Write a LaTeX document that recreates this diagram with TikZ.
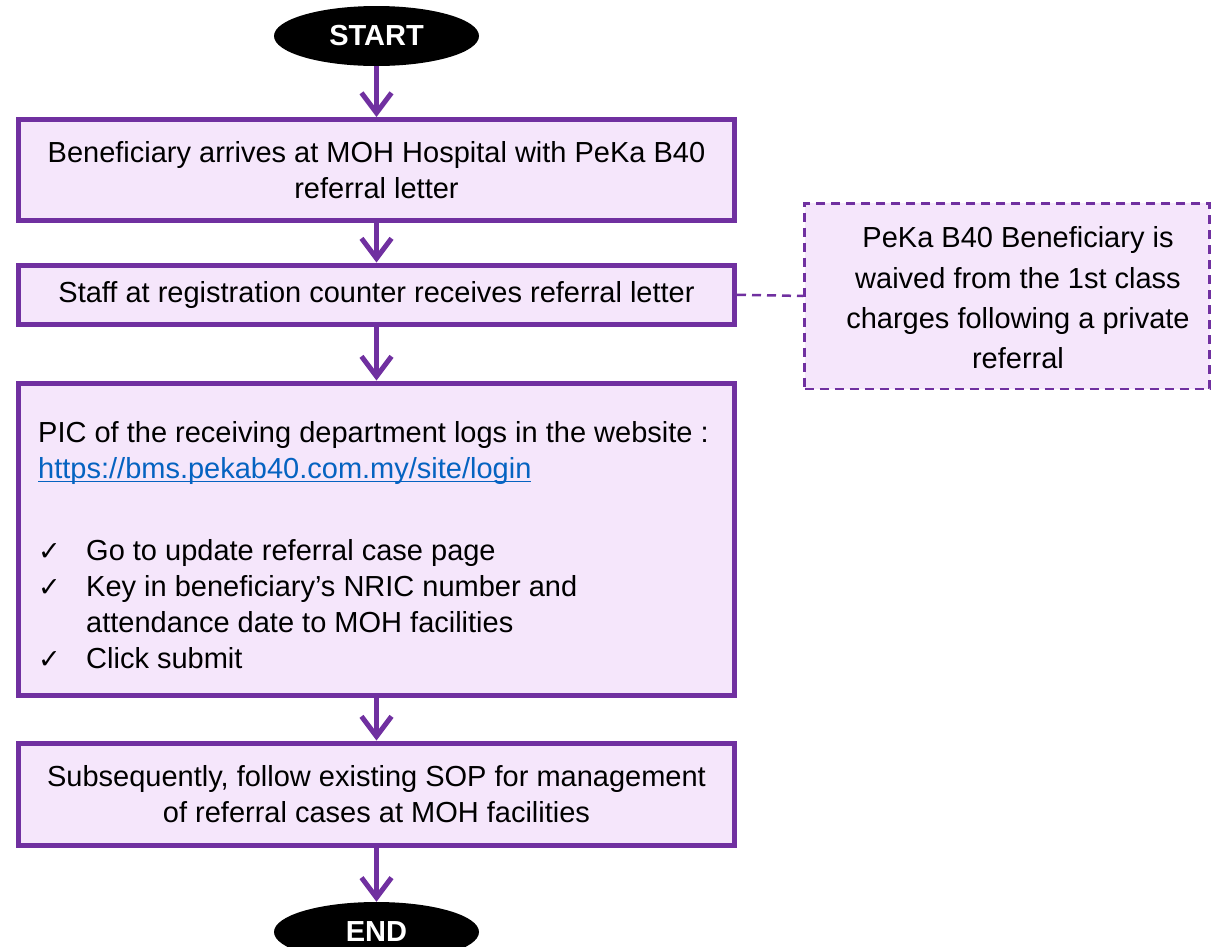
\documentclass[tikz,border=0pt]{standalone}
\usepackage{fontspec}
\setmainfont{Liberation Sans}
\newfontfamily\symfont{DejaVu Sans}
\usetikzlibrary{shapes.geometric,arrows.meta}
\definecolor{ppl}{HTML}{7030A0}
\definecolor{lav}{HTML}{F5E6FB}
\definecolor{urlc}{HTML}{0563C1}
\newcommand\myul[1]{\setbox0\hbox{#1}\rlap{\rule[-3.5pt]{\wd0}{1.3pt}}\box0}
\newcommand\chk{\makebox[48pt][l]{\symfont\fontsize{27}{27}\selectfont ✓}}
\begin{document}
\begin{tikzpicture}[x=1pt,y=-1pt,
  font=\fontsize{29}{36}\selectfont,
  box/.style={draw=ppl, line width=5pt, fill=lav, minimum width=716pt, inner sep=0pt, align=center},
  term/.style={ellipse, fill=black, text=white, font=\bfseries\fontsize{29}{30}\selectfont, minimum width=205pt, minimum height=60pt, inner sep=0pt},
  flow/.style={draw=ppl, line width=5pt, -{Straight Barb[length=20pt,width=30pt]}},
  note/.style={draw=ppl, line width=2.5pt, dash pattern=on 9pt off 6pt, fill=lav, inner sep=0pt},
  link/.style={draw=ppl, line width=2.5pt, dash pattern=on 9pt off 6pt},
  plain/.style={inner sep=0pt}]
\useasboundingbox (0,0) rectangle (1211,946);
\node[term] (start) at (376.5,36) {\raisebox{-2pt}{START}};
\node[box, minimum height=100.5pt] (b1) at (376.5,169.75) {\raisebox{-3pt}{\parbox{700pt}{\centering Beneficiary arrives at MOH Hospital with PeKa B40\\referral letter}}};
\node[box, minimum height=59.5pt] (b2) at (376.5,294.75) {Staff at registration counter receives referral letter};
\node[box, minimum height=312pt] (b3) at (376.5,539) {};
\node[plain, anchor=west, align=left] (b3t) at (38,545) {PIC of the receiving department logs in the website :\\
{\color{urlc}\myul{https://bms.pekab40.com.my/site/login}}\\[46pt]
\chk Go to update referral case page\\
\chk Key in beneficiary’s NRIC number and\\
\hspace*{48pt}attendance date to MOH facilities\\
\chk Click submit};
\node[box, minimum height=102.5pt] (b4) at (376.5,794.25) {Subsequently, follow existing SOP for management\\of referral cases at MOH facilities};
\node[term] (end) at (376.5,932) {END};
\node[note, minimum width=405pt, minimum height=185.5pt] (note) at (1007,296) {};
\node[plain, align=center, font=\fontsize{29}{40.3}\selectfont] (notet) at (1018,298) {PeKa B40 Beneficiary is\\waived from the 1st class\\charges following a private\\referral};
\draw[flow] (start) -- (b1);
\draw[flow] (b1) -- (b2);
\draw[flow] (b2) -- (b3);
\draw[flow] (b3) -- (b4);
\draw[flow] (b4) -- (end);
\draw[link] (b2.east) -- (note.west);
\end{tikzpicture}
\end{document}
